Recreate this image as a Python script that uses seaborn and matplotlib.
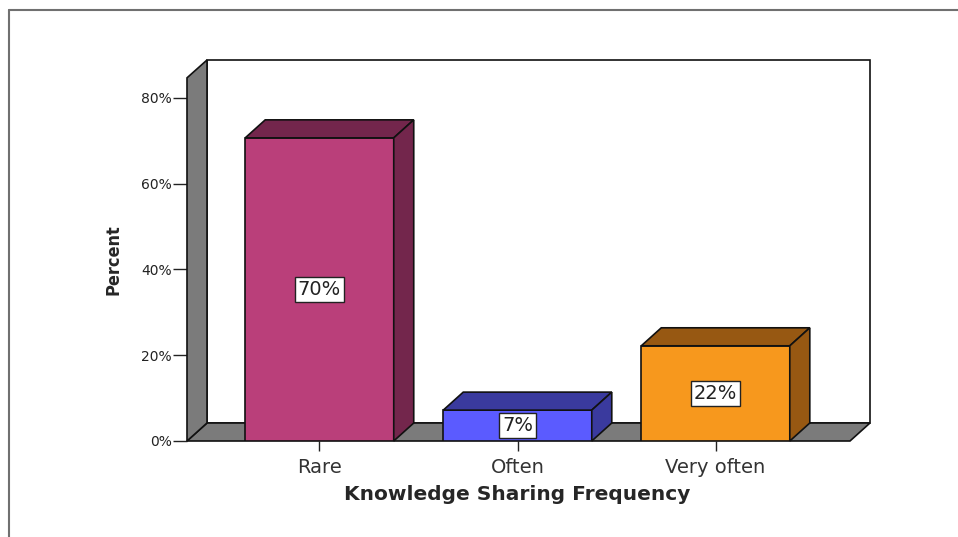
import numpy as np
import pandas as pd
import seaborn as sns
import matplotlib.pyplot as plt
from matplotlib.patches import Polygon
from matplotlib.lines import Line2D

# data
categories = ['Rare', 'Often', 'Very often']
percent = [70.7, 7.2, 22.2]
labels = ['70%', '7%', '22%']

front_cols = ['#BA3F7A', '#5B5BFF', '#F7981D']
dark_cols = ['#73264C', '#3A3A9E', '#975812']

df = pd.DataFrame({'cat': categories, 'pct': percent})

sns.set_style('white')
plt.rcParams['font.family'] = ['DejaVu Sans']

fig = plt.figure(figsize=(9.58, 5.37), dpi=100)
W, H = 958, 537
# axes box in pixels: left wall front edge to back wall right, floor front to back wall top
ax = fig.add_axes([187 / W, (H - 441) / H, (870 - 187) / W, (441 - 60) / H])

sns.barplot(data=df, x='cat', y='pct', hue='cat', palette=front_cols,
            width=0.75, edgecolor='#111111', linewidth=1.2, legend=False,
            saturation=1, ax=ax, zorder=3)

x0, xf, xb = -0.669, 2.679, 2.780
ytop_front, ytop = 84.7, 88.86
dx, dy = xb - xf, 4.2
ax.set_xlim(x0, xb)
ax.set_ylim(0, ytop)

gray = '#7B7B7B'
# back wall
ax.add_patch(Polygon([(x0 + dx, dy), (xb, dy), (xb, ytop), (x0 + dx, ytop)],
                     closed=True, fc='white', ec='#111111', lw=1.2, zorder=0.5, clip_on=False))
# floor
ax.add_patch(Polygon([(x0, 0), (xf, 0), (xb, dy), (x0 + dx, dy)],
                     closed=True, fc=gray, ec='#111111', lw=1.2, zorder=1, clip_on=False))
# left wall
ax.add_patch(Polygon([(x0, 0), (x0 + dx, dy), (x0 + dx, ytop), (x0, ytop_front)],
                     closed=True, fc=gray, ec='#111111', lw=1.2, zorder=1, clip_on=False))

for p, dc, lab in zip(ax.patches[:3], dark_cols, labels):
    bx, bw, bh = p.get_x(), p.get_width(), p.get_height()
    ax.add_patch(Polygon([(bx, bh), (bx + bw, bh), (bx + bw + dx, bh + dy), (bx + dx, bh + dy)],
                         closed=True, fc=dc, ec='#111111', lw=1.2, zorder=3, clip_on=False))
    ax.add_patch(Polygon([(bx + bw, 0), (bx + bw + dx, dy), (bx + bw + dx, bh + dy), (bx + bw, bh)],
                         closed=True, fc=dc, ec='#111111', lw=1.2, zorder=3, clip_on=False))
    ax.text(bx + bw / 2, bh / 2, lab, ha='center', va='center', fontsize=14, color='#222222',
            zorder=5, bbox=dict(boxstyle='square,pad=0.15', fc='white', ec='#222222', lw=1))

for s in ax.spines.values():
    s.set_visible(False)
ax.set_yticks([0, 20, 40, 60, 80])
ax.set_yticklabels(['0%', '20%', '40%', '60%', '80%'], fontsize=10, color='#222222')
ax.tick_params(axis='y', left=True, length=10, width=1, color='#222222', pad=1)
ax.tick_params(axis='x', bottom=True, length=7, width=1, color='#222222', pad=5,
               labelsize=14, labelcolor='#333333')
ax.set_xlabel('Knowledge Sharing Frequency', fontsize=14.5, fontweight='bold', va='center')
ax.set_ylabel('Percent', fontsize=13, fontweight='bold', fontstretch='condensed',
              family=['DejaVu Sans Condensed', 'Liberation Sans Narrow', 'DejaVu Sans'], va='center')
ax.xaxis.set_label_coords((517 - 187) / (870 - 187), -(494 - 441) / (441 - 60))
ax.yaxis.set_label_coords(-(187 - 113) / (870 - 187), (441 - 260) / (441 - 60))

# outer frame
fig.add_artist(Line2D([9 / W, 9 / W], [0, 1 - 10 / H], color='#707070', lw=1.5))
fig.add_artist(Line2D([9 / W, 1], [1 - 10 / H, 1 - 10 / H], color='#707070', lw=1.5))

fig.savefig('out.png', dpi=100)
